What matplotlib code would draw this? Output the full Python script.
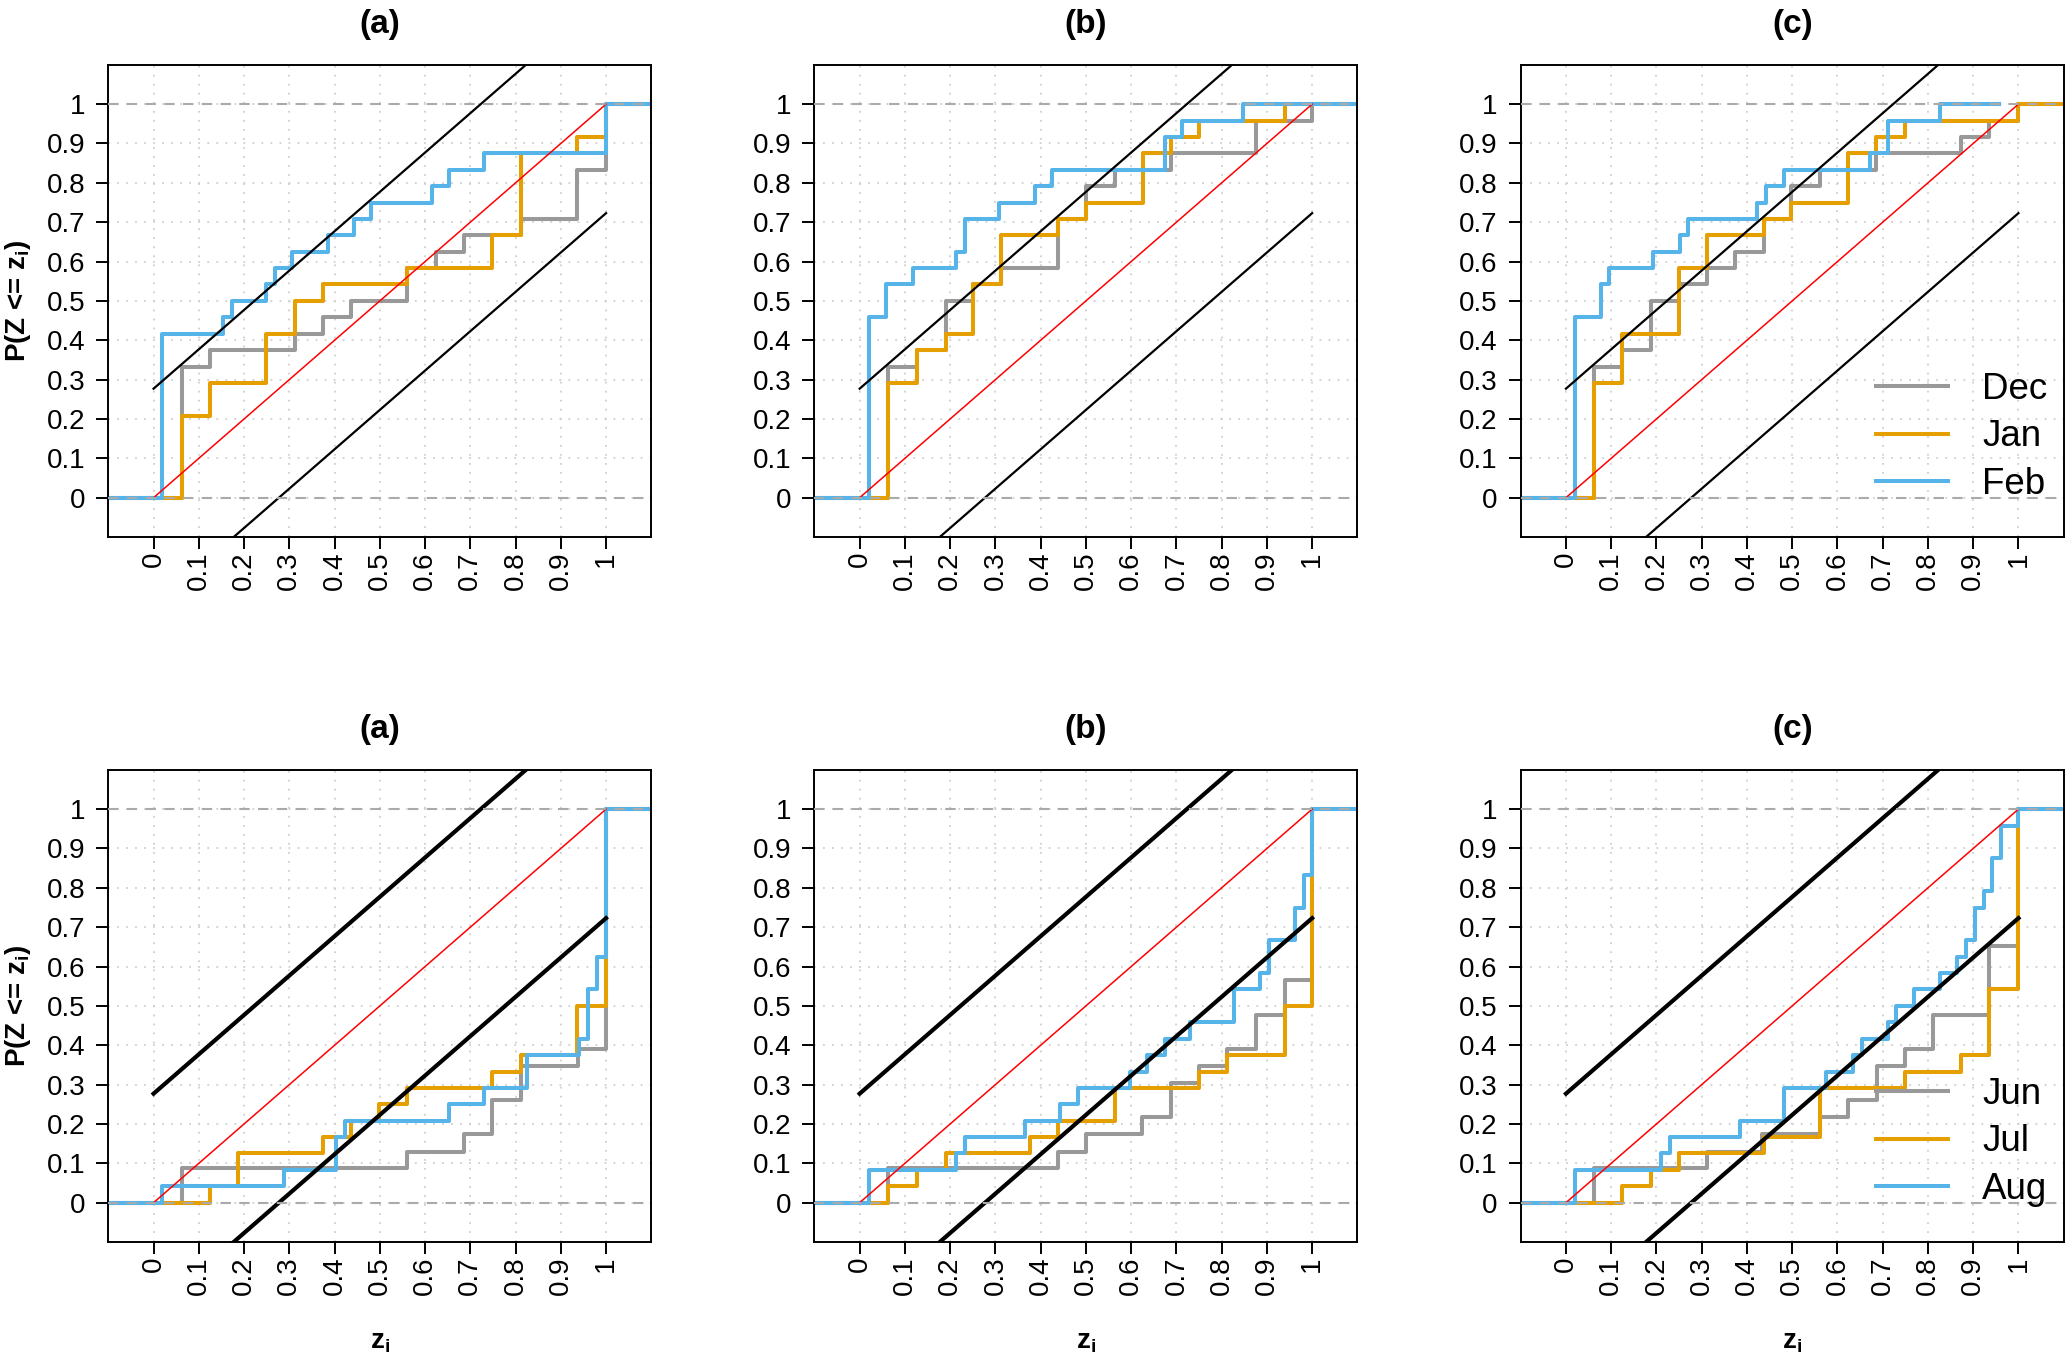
import matplotlib
matplotlib.use("Agg")
import matplotlib.pyplot as plt

plt.rcParams["font.family"] = ["Liberation Sans", "DejaVu Sans"]
plt.rcParams["mathtext.fontset"] = "custom"
plt.rcParams["mathtext.rm"] = "Liberation Sans"
plt.rcParams["mathtext.bf"] = "Liberation Sans:bold"

# ── ECDF step data (jump location, level after the jump) ──────────
# winter, panel (a)
dec_a_x = [0.062, 0.125, 0.313, 0.375, 0.436, 0.560, 0.624, 0.687, 0.812, 0.936, 1.0]
dec_a_y = [0.333, 0.375, 0.417, 0.458, 0.500, 0.583, 0.625, 0.667, 0.708, 0.833, 1.0]
jan_a_x = [0.062, 0.125, 0.249, 0.312, 0.375, 0.560, 0.749, 0.812, 0.936, 1.0]
jan_a_y = [0.208, 0.292, 0.417, 0.500, 0.542, 0.583, 0.667, 0.875, 0.917, 1.0]
feb_a_x = [0.019, 0.153, 0.173, 0.249, 0.269, 0.307, 0.385, 0.442, 0.480, 0.615, 0.653, 0.730, 1.0]
feb_a_y = [0.417, 0.458, 0.500, 0.542, 0.583, 0.625, 0.667, 0.708, 0.750, 0.792, 0.833, 0.875, 1.0]

# winter, panel (b)
dec_b_x = [0.063, 0.126, 0.190, 0.250, 0.313, 0.439, 0.501, 0.565, 0.689, 0.876, 1.0]
dec_b_y = [0.333, 0.375, 0.500, 0.542, 0.583, 0.708, 0.792, 0.833, 0.875, 0.958, 1.0]
jan_b_x = [0.063, 0.126, 0.190, 0.251, 0.313, 0.439, 0.501, 0.626, 0.687, 0.750, 0.939]
jan_b_y = [0.292, 0.375, 0.417, 0.542, 0.667, 0.708, 0.750, 0.875, 0.917, 0.958, 1.0]
feb_b_x = [0.021, 0.059, 0.118, 0.213, 0.232, 0.309, 0.387, 0.424, 0.674, 0.712, 0.848]
feb_b_y = [0.458, 0.542, 0.583, 0.625, 0.708, 0.750, 0.792, 0.833, 0.917, 0.958, 1.0]

# winter, panel (c)
dec_c_x = [0.062, 0.123, 0.188, 0.249, 0.311, 0.374, 0.438, 0.498, 0.562, 0.685, 0.874, 0.936, 1.0]
dec_c_y = [0.333, 0.375, 0.500, 0.542, 0.583, 0.625, 0.708, 0.792, 0.833, 0.875, 0.917, 0.958, 1.0]
jan_c_x = [0.062, 0.123, 0.249, 0.311, 0.438, 0.498, 0.623, 0.685, 0.749, 1.0]
jan_c_y = [0.292, 0.417, 0.583, 0.667, 0.708, 0.750, 0.875, 0.917, 0.958, 1.0]
feb_c_x = [0.019, 0.077, 0.096, 0.193, 0.251, 0.270, 0.423, 0.442, 0.481, 0.672, 0.711, 0.826]
feb_c_y = [0.458, 0.542, 0.583, 0.625, 0.667, 0.708, 0.750, 0.792, 0.833, 0.875, 0.958, 1.0]
feb_c_end = 0.957

# summer, panel (a)
jun_a_x = [0.062, 0.560, 0.687, 0.749, 0.812, 0.939, 1.0]
jun_a_y = [0.087, 0.130, 0.174, 0.261, 0.348, 0.391, 1.0]
jul_a_x = [0.124, 0.187, 0.375, 0.436, 0.499, 0.560, 0.749, 0.812, 0.936, 1.0]
jul_a_y = [0.042, 0.125, 0.167, 0.208, 0.250, 0.292, 0.333, 0.375, 0.500, 1.0]
aug_a_x = [0.019, 0.288, 0.403, 0.422, 0.652, 0.730, 0.826, 0.940, 0.960, 0.979, 1.0]
aug_a_y = [0.042, 0.083, 0.167, 0.208, 0.250, 0.292, 0.375, 0.417, 0.542, 0.625, 1.0]

# summer, panel (b)
jun_b_x = [0.063, 0.439, 0.501, 0.624, 0.687, 0.750, 0.812, 0.876, 0.939, 1.0]
jun_b_y = [0.087, 0.130, 0.174, 0.217, 0.304, 0.348, 0.391, 0.478, 0.565, 1.0]
jul_b_x = [0.063, 0.126, 0.190, 0.376, 0.439, 0.564, 0.750, 0.812, 0.939, 1.0]
jul_b_y = [0.042, 0.083, 0.125, 0.167, 0.208, 0.292, 0.333, 0.375, 0.500, 1.0]
aug_b_x = [0.021, 0.213, 0.232, 0.366, 0.443, 0.482, 0.598, 0.635, 0.674, 0.731, 0.827,
           0.885, 0.904, 0.963, 0.981, 1.0]
aug_b_y = [0.083, 0.125, 0.167, 0.208, 0.250, 0.292, 0.333, 0.375, 0.417, 0.458, 0.542,
           0.583, 0.667, 0.750, 0.833, 1.0]

# summer, panel (c)
jun_c_x = [0.062, 0.311, 0.434, 0.562, 0.623, 0.687, 0.749, 0.812, 0.936, 1.0]
jun_c_y = [0.087, 0.130, 0.174, 0.217, 0.261, 0.348, 0.391, 0.478, 0.652, 1.0]
jul_c_x = [0.123, 0.188, 0.249, 0.438, 0.562, 0.749, 0.874, 0.936, 1.0]
jul_c_y = [0.042, 0.083, 0.125, 0.167, 0.292, 0.333, 0.375, 0.542, 1.0]
aug_c_x = [0.019, 0.211, 0.230, 0.384, 0.481, 0.575, 0.635, 0.654, 0.712, 0.730, 0.770,
           0.826, 0.865, 0.884, 0.904, 0.923, 0.942, 0.961, 1.0]
aug_c_y = [0.083, 0.125, 0.167, 0.208, 0.292, 0.333, 0.375, 0.417, 0.458, 0.500, 0.542,
           0.583, 0.625, 0.667, 0.750, 0.792, 0.875, 0.958, 1.0]

# KS band half-width (n = 24, 5 %)
ks_d = 0.277

panel_titles = ["(a)", "(b)", "(c)"]
winter_months = ["Dec", "Jan", "Feb"]
summer_months = ["Jun", "Jul", "Aug"]
tick_vals = [0, 0.1, 0.2, 0.3, 0.4, 0.5, 0.6, 0.7, 0.8, 0.9, 1]
tick_labels = ["0", "0.1", "0.2", "0.3", "0.4", "0.5", "0.6", "0.7", "0.8", "0.9", "1"]

COLORS = ["#999999", "#E69F00", "#56B4E9"]

rows = [
    [[(dec_a_x, dec_a_y, None), (jan_a_x, jan_a_y, None), (feb_a_x, feb_a_y, None)],
     [(dec_b_x, dec_b_y, None), (jan_b_x, jan_b_y, None), (feb_b_x, feb_b_y, None)],
     [(dec_c_x, dec_c_y, None), (jan_c_x, jan_c_y, None), (feb_c_x, feb_c_y, feb_c_end)]],
    [[(jun_a_x, jun_a_y, None), (jul_a_x, jul_a_y, None), (aug_a_x, aug_a_y, None)],
     [(jun_b_x, jun_b_y, None), (jul_b_x, jul_b_y, None), (aug_b_x, aug_b_y, None)],
     [(jun_c_x, jun_c_y, None), (jul_c_x, jul_c_y, None), (aug_c_x, aug_c_y, None)]],
]
row_months = [winter_months, summer_months]
band_lw = [1.6, 3.0]

XMIN, XMAX = -0.1, 1.1

fig = plt.figure(figsize=(20.67, 13.61), dpi=100)
lefts = [0.0524, 0.394, 0.7357]
bottoms = [0.6054, 0.0874]
W, H = 0.2627, 0.347

for r in range(2):
    for c in range(3):
        ax = fig.add_axes([lefts[c], bottoms[r], W, H])
        ax.set_xlim(XMIN, XMAX)
        ax.set_ylim(-0.1, 1.1)

        # dotted grid
        for t in tick_vals:
            ax.axvline(t, color="#CFCFCF", lw=1.3, ls=(0, (1, 4)), zorder=0)
            ax.axhline(t, color="#CFCFCF", lw=1.3, ls=(0, (1, 4)), zorder=0)

        # ECDFs
        for k, (xs, ys, end) in enumerate(rows[r][c]):
            x_end = XMAX if end is None else end
            sx = [XMIN] + list(xs) + [x_end]
            sy = [0] + list(ys) + [ys[-1]]
            ax.step(sx, sy, where="post", color=COLORS[k], lw=2.9,
                    label=row_months[r][k], zorder=2)

        # reference line and KS band
        ax.plot([0, 1], [0, 1], color="red", lw=1.1, zorder=3)
        ax.plot([0, 1], [ks_d, 1 + ks_d], color="black", lw=band_lw[r], zorder=3)
        ax.plot([0, 1], [-ks_d, 1 - ks_d], color="black", lw=band_lw[r], zorder=3)

        ax.axhline(0, color="#AAAAAA", lw=1.5, ls=(0, (5, 4)), zorder=4)
        ax.axhline(1, color="#AAAAAA", lw=1.5, ls=(0, (5, 4)), zorder=4)

        ax.set_xticks(tick_vals)
        ax.set_xticklabels(tick_labels, rotation=90)
        ax.set_yticks(tick_vals)
        ax.set_yticklabels(tick_labels)
        ax.tick_params(axis="both", direction="out", length=8.6, width=1.4,
                       labelsize=20, color="black")
        ax.tick_params(axis="x", pad=2)
        ax.tick_params(axis="y", pad=8)
        for sp in ax.spines.values():
            sp.set_linewidth(1.4)

        ax.set_title(panel_titles[c], fontsize=24, fontweight="bold", pad=23)

        if c == 0:
            ax.set_ylabel(r"P(Z <= z$_\mathbf{i}$)", fontsize=20, fontweight="bold", labelpad=10)
        if r == 1:
            ax.set_xlabel(r"z$_\mathbf{i}$", fontsize=20, fontweight="bold", labelpad=24)

        if c == 2:
            ax.legend(loc="lower right", bbox_to_anchor=(0.97, 0.075), frameon=False,
                      fontsize=26.5, handlelength=1.96, handletextpad=0.92,
                      labelspacing=0.33, borderpad=0, borderaxespad=0)

fig.savefig("out.png", dpi=100)
